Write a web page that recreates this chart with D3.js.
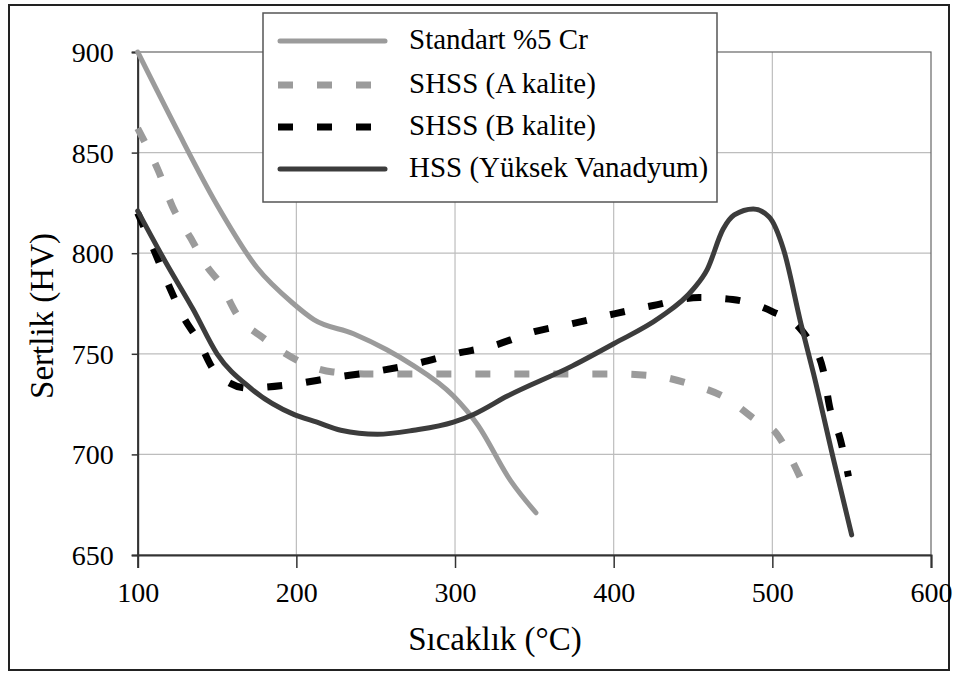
<!DOCTYPE html>
<html>
<head>
<meta charset="utf-8">
<script src="https://cdn.jsdelivr.net/npm/d3@7"></script>
<style>
  body { margin: 0; background: #fff; }
  svg text { font-family: "Liberation Serif", "Times New Roman", serif; fill: #000; }
</style>
</head>
<body>
<svg width="961" height="673"></svg>
<script>
// values: [temperature, hardness]
const standartCr = [[100,900],[125,861],[150,824],[175,793],[198,775],[211,767],[236,760],[257,752],
  [272,745],[299,729],[314,715],[335,687],[351,671]];
const shssA = [[100,862],[113,841],[122,823],[133,808],[144,793],[152,785],[163,769],[179,758],
  [200,747],[223,741],[246,740],[300,740],[350,740],[400,740],[426,739],[448,735],[473,727],
  [488,718],[503,710],[513,696],[523,679]];
const shssB = [[100,820],[110,802],[119,785],[129,768],[138,757],[149,741],[169,733],[199,735],
  [222,738],[248,741],[275,745],[300,750],[324,754],[350,761],[374,765],[401,770],[425,774],
  [454,778],[475,777],[500,771],[517,763],[522,758],[532,742],[536,724],[543,707],[548,689]];
const hss = [[100,821],[118,795],[135,772],[150,750],[171,733],[198,720],[213,716],[228,712],
  [251,710],[274,712],[299,716],[312,720],[333,729],[374,744],[400,755],[429,768],[450,782],
  [459,792],[469,812],[476,819],[488,822],[498,818],[507,802],[518,765],[526,740],[539,696],[550,660]];

const xTicks = [100, 200, 300, 400, 500, 600];
const yTicks = [650, 700, 750, 800, 850, 900];
const seriesNames = ["Standart %5 Cr", "SHSS (A kalite)", "SHSS (B kalite)", "HSS (Yüksek Vanadyum)"];

const svg = d3.select("svg");

// outer frame
svg.append("rect").attr("x", 9).attr("y", 5).attr("width", 940).attr("height", 665)
  .attr("fill", "none").attr("stroke", "#222").attr("stroke-width", 2);

const x = d3.scaleLinear().domain([100, 600]).range([137.7, 931]);
const y = d3.scaleLinear().domain([650, 900]).range([555, 52]);

// grid
svg.append("g").selectAll("line").data(xTicks.slice(1, -1)).join("line")
  .attr("x1", d => x(d)).attr("x2", d => x(d)).attr("y1", y(900)).attr("y2", y(650))
  .attr("stroke", "#bdbdbd").attr("stroke-width", 1.2);
svg.append("g").selectAll("line").data(yTicks.slice(1, -1)).join("line")
  .attr("x1", x(100)).attr("x2", x(600)).attr("y1", d => y(d)).attr("y2", d => y(d))
  .attr("stroke", "#bdbdbd").attr("stroke-width", 1.2);

// plot border
svg.append("rect").attr("x", x(100)).attr("y", y(900))
  .attr("width", x(600) - x(100)).attr("height", y(650) - y(900))
  .attr("fill", "none").attr("stroke", "#666").attr("stroke-width", 1.2);

// axes
const xAxis = svg.append("g").attr("transform", `translate(0,${y(650)})`)
  .call(d3.axisBottom(x).tickValues(xTicks).tickSize(13).tickPadding(14));
const yAxis = svg.append("g").attr("transform", `translate(${x(100)},0)`)
  .call(d3.axisLeft(y).tickValues(yTicks).tickSize(6).tickPadding(18));
[xAxis, yAxis].forEach(g => {
  g.attr("font-family", null);
  g.select(".domain").attr("stroke", "#333").attr("stroke-width", 2);
  g.selectAll(".tick line").attr("stroke", "#333").attr("stroke-width", 1.5);
  g.selectAll(".tick text").attr("font-size", 28);
});
yAxis.selectAll(".tick text").attr("dy", "0.34em");

// axis titles
svg.append("text").attr("x", 495).attr("y", 650).attr("text-anchor", "middle")
  .attr("font-size", 33).text("Sıcaklık (°C)");
svg.append("text").attr("transform", "translate(53,316) rotate(-90)").attr("text-anchor", "middle")
  .attr("font-size", 33).text("Sertlik (HV)");

// lines
const line = d3.line().x(d => x(d[0])).y(d => y(d[1])).curve(d3.curveMonotoneX);
const styles = [
  {data: standartCr, color: "#9b9b9b", width: 5, dash: null},
  {data: shssA, color: "#9b9b9b", width: 7, dash: "15,24"},
  {data: shssB, color: "#000", width: 7, dash: "15,24"},
  {data: hss, color: "#3c3c3c", width: 5, dash: null}
];
svg.append("g").selectAll("path").data(styles).join("path")
  .attr("d", d => line(d.data))
  .attr("fill", "none")
  .attr("stroke", d => d.color)
  .attr("stroke-width", d => d.width)
  .attr("stroke-dasharray", d => d.dash)
  .attr("stroke-linecap", d => d.dash ? "butt" : "round")
  .attr("stroke-linejoin", "round");

// legend
const legend = svg.append("g");
legend.append("rect").attr("x", 263).attr("y", 13).attr("width", 454).attr("height", 189)
  .attr("fill", "#fff").attr("stroke", "#555").attr("stroke-width", 1.5);
const rowY = [41, 85, 127, 169];
const rows = legend.selectAll("g.row").data(styles).join("g").attr("class", "row")
  .attr("transform", (d, i) => `translate(0,${rowY[i]})`);
rows.append("line").attr("x1", d => d.dash ? 278 : 280).attr("x2", 385)
  .attr("stroke", d => d.color).attr("stroke-width", d => d.width)
  .attr("stroke-dasharray", d => d.dash)
  .attr("stroke-linecap", d => d.dash ? "butt" : "round");
rows.append("text").attr("x", 409).attr("y", 8).attr("font-size", 29)
  .text((d, i) => seriesNames[i]);
</script>
</body>
</html>
